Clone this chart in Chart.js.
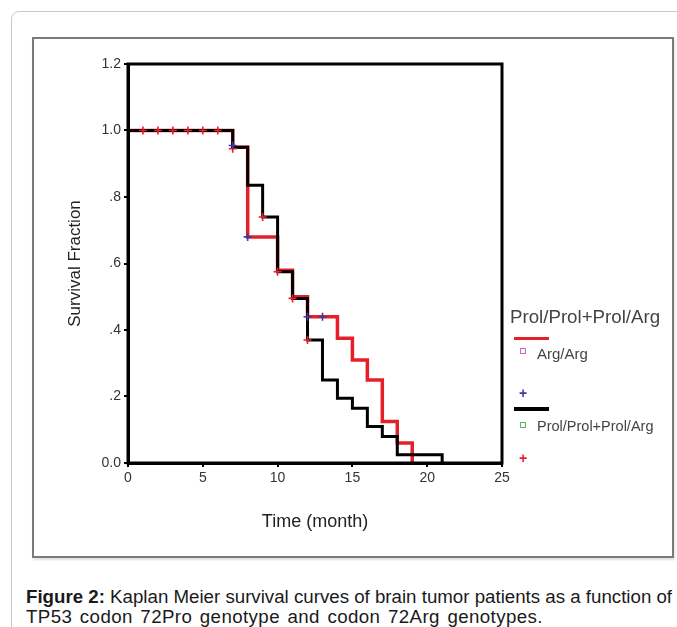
<!DOCTYPE html>
<html>
<head>
<meta charset="utf-8">
<script src="https://cdn.jsdelivr.net/npm/chart.js@4/dist/chart.umd.min.js"></script>
<style>
  html, body { margin:0; padding:0; background:#fff; width:677px; height:627px; overflow:hidden; font-family:"Liberation Sans", Arial, sans-serif; }
  #outer { position:absolute; left:11px; top:11px; width:700px; height:700px; border:1.5px solid #c9c9c9; border-radius:8px; }
  #frame { position:absolute; left:32px; top:37px; width:638px; height:517px; border:2px solid #7a7a7a; box-shadow:1px 2px 2px rgba(0,0,0,0.12); background:#fff; }
  #chartWrap { position:absolute; left:33px; top:38px; }
  .lg { position:absolute; color:#444; white-space:nowrap; }
  .lline { position:absolute; height:3.5px; }
  .sq { position:absolute; width:4px; height:4px; border:1.5px solid; }
  .plus { position:absolute; font-size:14px; line-height:14px; font-weight:bold; }
  #caption { position:absolute; left:26px; top:587px; font-size:18.7px; line-height:20px; color:#1a1a1a; white-space:nowrap; }
  #cap2 { letter-spacing:0.4px; word-spacing:2px; }
</style>
</head>
<body>
<div id="outer"></div>
<div id="frame"></div>
<div id="chartWrap"><canvas id="c" width="639" height="518"></canvas></div>

<div class="lg" style="left:510px; top:306px; font-size:18.7px;">Prol/Prol+Prol/Arg</div>
<div class="lline" style="left:514px; top:336.5px; width:35px; background:#e4202a;"></div>
<div class="sq" style="left:520px; top:348px; border-color:#c46bc4;"></div>
<div class="lg" style="left:537px; top:345px; font-size:15px;">Arg/Arg</div>
<div class="plus" style="left:519px; top:386px; color:#3b3b9e;">+</div>
<div class="lline" style="left:514px; top:407px; width:35px; background:#000;"></div>
<div class="sq" style="left:520px; top:422px; border-color:#5cb85c;"></div>
<div class="lg" style="left:537px; top:418px; font-size:14.5px;">Prol/Prol+Prol/Arg</div>
<div class="plus" style="left:519px; top:451px; color:#e4202a;">+</div>

<div id="caption"><b>Figure 2:</b> Kaplan Meier survival curves of brain tumor patients as a function of<br><span id="cap2">TP53 codon 72Pro genotype and codon 72Arg genotypes.</span></div>

<script>
// Kaplan-Meier step data
const prolTimes = [0, 7, 8, 9, 10, 11, 12, 13, 14, 15, 16, 17, 18, 21];
const prolSurv  = [1.0, 0.95, 0.835, 0.74, 0.575, 0.495, 0.37, 0.25, 0.195, 0.165, 0.11, 0.08, 0.025, 0.0];
const argTimes  = [0, 7, 8, 10, 11, 12, 14, 15, 16, 17, 18, 19];
const argSurv   = [1.0, 0.95, 0.68, 0.58, 0.5, 0.44, 0.375, 0.31, 0.25, 0.125, 0.06, 0.0];
// censored observations
const argCensTimes  = [7, 8, 12, 13];
const argCensSurv   = [0.955, 0.68, 0.44, 0.44];
const prolCensTimes = [1, 2, 3, 4, 5, 6, 7, 9, 10, 11, 12];
const prolCensSurv  = [1.0, 1.0, 1.0, 1.0, 1.0, 1.0, 0.945, 0.74, 0.575, 0.495, 0.37];
// axis ticks
const xTicks = [0, 5, 10, 15, 20, 25];
const yTicks = [0, 0.2, 0.4, 0.6, 0.8, 1.0, 1.2];

const toPts = (xs, ys) => xs.map((x, i) => ({x: x, y: ys[i]}));
const RED = '#e4202a', BLUE = '#3b3b9e';

const frameBox = {
  id: 'frameBox',
  afterDatasetsDraw(chart) {
    const a = chart.chartArea, ctx = chart.ctx;
    ctx.save();
    ctx.strokeStyle = '#000';
    ctx.lineWidth = 3;
    ctx.strokeRect(a.left, a.top, a.right - a.left, a.bottom - a.top);
    ctx.restore();
  }
};

new Chart(document.getElementById('c'), {
  type: 'line',
  data: {
    datasets: [
      { label: 'Arg/Arg censored', data: toPts(argCensTimes, argCensSurv), showLine: false,
        pointStyle: 'cross', pointRadius: 4, pointBorderWidth: 1.6, borderColor: BLUE, backgroundColor: BLUE, order: 0 },
      { label: 'Prol/Prol+Prol/Arg censored', data: toPts(prolCensTimes, prolCensSurv), showLine: false,
        pointStyle: 'cross', pointRadius: 4, pointBorderWidth: 1.6, borderColor: RED, backgroundColor: RED, order: 0 },
      { label: 'Prol/Prol+Prol/Arg', data: toPts(prolTimes, prolSurv), stepped: 'before',
        borderColor: '#000', borderWidth: 3, pointRadius: 0, fill: false, order: 1 },
      { label: 'Arg/Arg', data: toPts(argTimes, argSurv), stepped: 'before',
        borderColor: RED, borderWidth: 3.5, pointRadius: 0, fill: false, order: 2 }
    ]
  },
  options: {
    responsive: false,
    animation: false,
    clip: false,
    layout: { padding: { left: 0, top: 26, right: 170, bottom: 0 } },
    plugins: { legend: { display: false }, tooltip: { enabled: false } },
    scales: {
      x: {
        type: 'linear', min: 0, max: 25,
        afterFit(s) { s.height = 93; },
        afterBuildTicks(s) { s.ticks = xTicks.map(v => ({value: v})); },
        grid: { drawOnChartArea: false, drawTicks: true, tickLength: 4, color: '#000', lineWidth: 2 },
        border: { display: true, color: '#000', width: 3 },
        ticks: { color: '#333', padding: 3, font: { family: '"Liberation Sans", Arial', size: 14 } },
        title: { display: true, text: 'Time (month)', color: '#222',
                 font: { family: '"Liberation Sans", Arial', size: 18 }, padding: { top: 0, bottom: 23 } }
      },
      y: {
        type: 'linear', min: 0, max: 1.2,
        afterFit(s) { s.width = 95; },
        afterBuildTicks(s) { s.ticks = yTicks.map(v => ({value: v})); },
        grid: { drawOnChartArea: false, drawTicks: true, tickLength: 4, color: '#000', lineWidth: 2 },
        border: { display: true, color: '#000', width: 3 },
        ticks: { color: '#333', padding: 3, font: { family: '"Liberation Sans", Arial', size: 14 },
                 callback(v) { const s = Number(v).toFixed(1); return (v > 0 && v < 1) ? s.slice(1) : s; } },
        title: { display: true, text: 'Survival Fraction', color: '#222',
                 font: { family: '"Liberation Sans", Arial', size: 17 }, padding: { top: 32, bottom: 0 } }
      }
    }
  },
  plugins: [frameBox]
});
</script>
</body>
</html>
